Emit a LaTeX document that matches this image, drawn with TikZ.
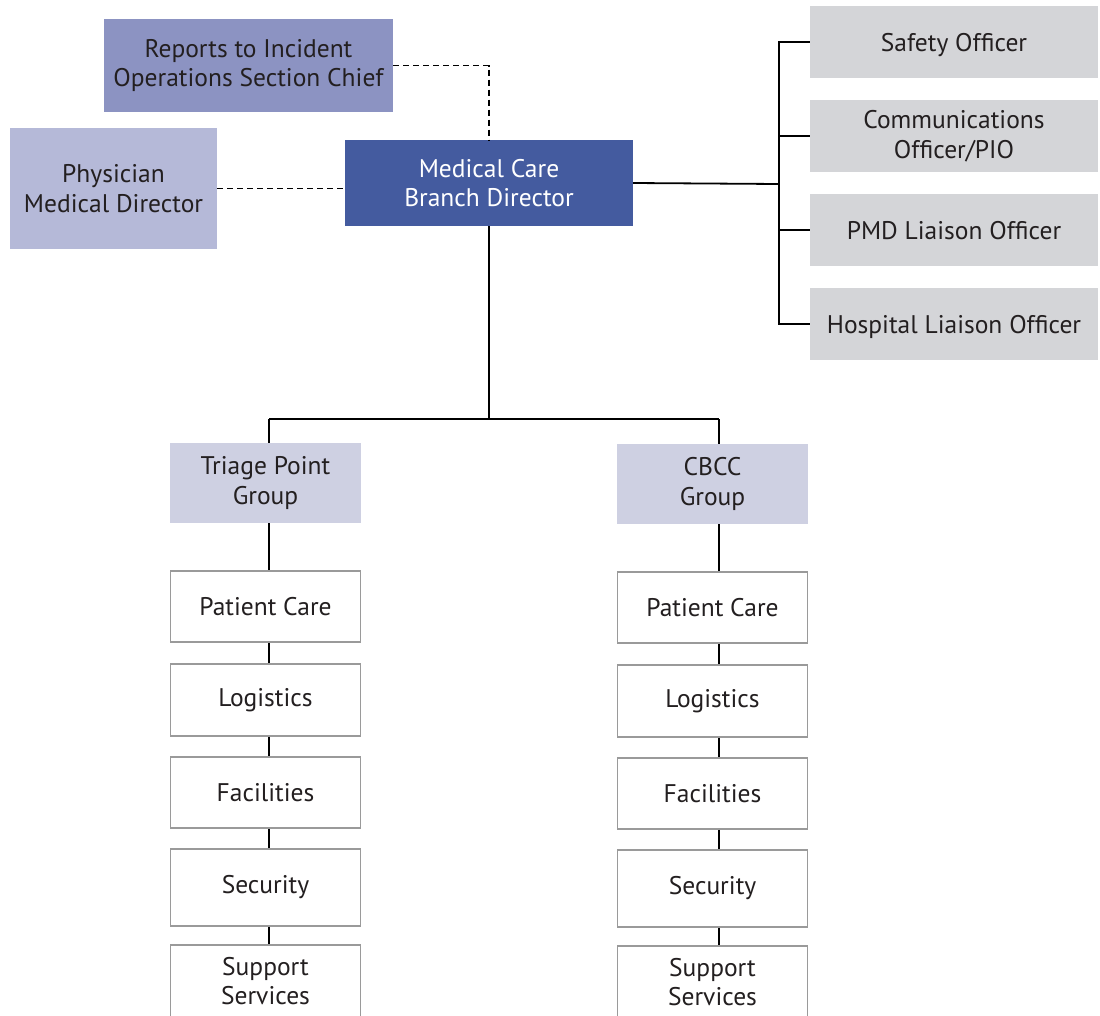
\documentclass[tikz,border=0pt]{standalone}
\usepackage{fontspec}
\setmainfont{PT Sans}
\begin{document}
\begin{tikzpicture}[x=1pt,y=-1pt,
  every node/.style={align=center, inner sep=0pt, font=\fontsize{25.5}{29.5}\selectfont, text=txtc},
  rep/.style={fill=repc, minimum width=289pt, minimum height=93pt},
  phy/.style={fill=phyc, minimum width=207pt, minimum height=121pt},
  dir/.style={fill=dirc, text=white, minimum width=288pt, minimum height=86pt},
  off/.style={fill=offc, minimum width=288pt, minimum height=72pt},
  offone/.style={off, text height=23pt, text depth=4pt},
  grp/.style={fill=grpc, minimum width=191pt, minimum height=80pt},
  sub/.style={fill=white, draw=subc, line width=1.5pt, minimum width=190pt},
  conn/.style={line width=1.8pt, draw=black},
  dconn/.style={line width=1.8pt, draw=black, dash pattern=on 6pt off 4pt}
]
\definecolor{txtc}{HTML}{231F20}
\definecolor{repc}{HTML}{8C93C2}
\definecolor{phyc}{HTML}{B5B9D8}
\definecolor{dirc}{HTML}{445B9F}
\definecolor{offc}{HTML}{D4D5D8}
\definecolor{grpc}{HTML}{CED0E2}
\definecolor{subc}{HTML}{9A9A9A}
\useasboundingbox (0,0) rectangle (1100,1015);
\clip (0,0) rectangle (1100,1015);

\node[rep] (rep) at (248.5,65.5) {Reports to Incident\\Operations Section Chief};
\node[phy] (phy) at (113.5,188.5) {Physician\\Medical Director};
\node[dir] (mcb) at (489,183) {Medical Care\\Branch Director};

\node[offone] (saf) at (954,42) {Safety Officer};
\node[off] (com) at (954,136) {Communications\\Officer/PIO};
\node[offone] (pmd) at (954,230) {PMD Liaison Officer};
\node[offone] (hos) at (954,324) {Hospital Liaison Officer};

\node[grp] (tri) at (265.5,483) {Triage Point\\Group};
\node[grp] (cbc) at (712.5,484) {CBCC\\Group};

\node[sub, minimum height=71pt] (lpc) at (265.5,606.5) {Patient Care};
\node[sub, minimum height=72pt] (llo) at (265.5,700) {Logistics};
\node[sub, minimum height=71pt] (lfa) at (265.5,792.5) {Facilities};
\node[sub, minimum height=77pt] (lse) at (265.5,887.5) {Security};
\node[sub, minimum height=72pt] (lsu) at (265.5,981) {Support\\Services};

\node[sub, minimum height=71pt] (rpc) at (712.5,607.5) {Patient Care};
\node[sub, minimum height=72pt] (rlo) at (712.5,701) {Logistics};
\node[sub, minimum height=71pt] (rfa) at (712.5,793.5) {Facilities};
\node[sub, minimum height=77pt] (rse) at (712.5,888.5) {Security};
\node[sub, minimum height=72pt] (rsu) at (712.5,982) {Support\\Services};

% dashed links
\draw[dconn] (rep.east) -| (mcb.north);
\draw[dconn] (phy.east) -- (phy.east -| mcb.west);

% officers
\coordinate (sp) at (779,184);
\draw[conn] (mcb.east) -- (sp);
\draw[conn] (saf.west) -| (sp) |- (hos.west);
\draw[conn] (com.west) -- (com.west -| sp);
\draw[conn] (pmd.west) -- (pmd.west -| sp);

% groups
\coordinate (bus) at (489,419);
\coordinate (lx) at (269,419);
\coordinate (rx) at (719,419);
\draw[conn] (mcb.south) -- (bus);
\draw[conn] (lx) -- (rx);
\draw[conn] (lx) -- (lx |- tri.north);
\draw[conn] (rx) -- (rx |- cbc.north);

% chains
\draw[conn] (lx |- tri.south) -- (lx |- lpc.north);
\draw[conn] (lx |- lpc.south) -- (lx |- llo.north);
\draw[conn] (lx |- llo.south) -- (lx |- lfa.north);
\draw[conn] (lx |- lfa.south) -- (lx |- lse.north);
\draw[conn] (lx |- lse.south) -- (lx |- lsu.north);

\draw[conn] (rx |- cbc.south) -- (rx |- rpc.north);
\draw[conn] (rx |- rpc.south) -- (rx |- rlo.north);
\draw[conn] (rx |- rlo.south) -- (rx |- rfa.north);
\draw[conn] (rx |- rfa.south) -- (rx |- rse.north);
\draw[conn] (rx |- rse.south) -- (rx |- rsu.north);
\end{tikzpicture}
\end{document}
